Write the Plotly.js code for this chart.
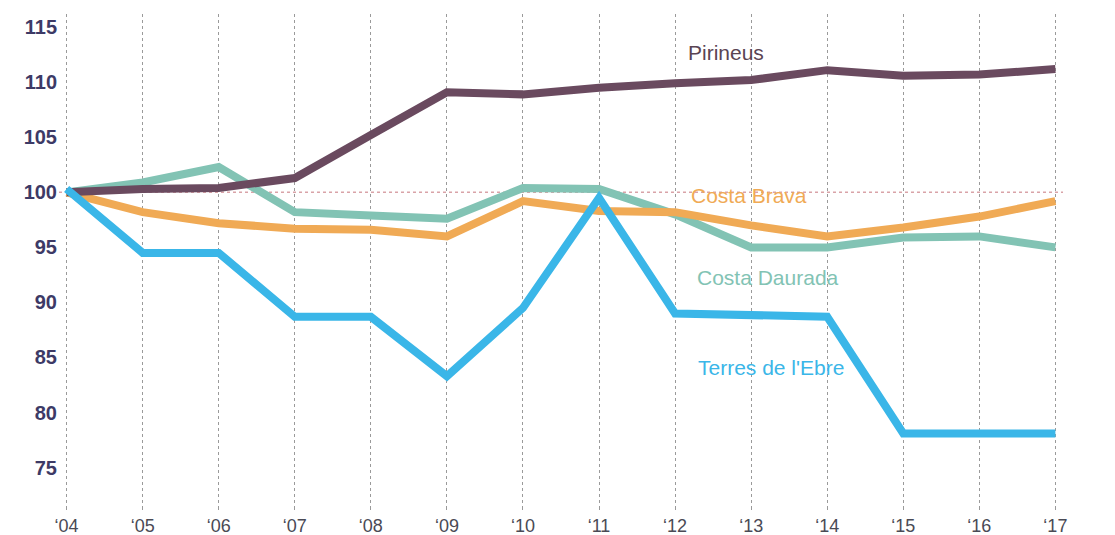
<!DOCTYPE html>
<html>
<head>
<meta charset="utf-8">
<script src="https://cdn.plot.ly/plotly-3.0.1.min.js"></script>
<style>
  html, body { margin: 0; padding: 0; background: #fff; }
  #graph { width: 1115px; height: 535px; }
</style>
</head>
<body>
<div id="graph"></div>
<script>
// Years and tick labels
const years = ['04', '05', '06', '07', '08', '09', '10', '11', '12', '13', '14', '15', '16', '17'];
const yearLabels = years.map(y => '\u2018' + y);

// Index values per region (2004 = 100)
const pirineus = [100, 100.3, 100.4, 101.3, 105.2, 109.1, 108.9, 109.5, 109.9, 110.2, 111.1, 110.6, 110.7, 111.2];
const costaBrava = [100, 98.2, 97.2, 96.7, 96.6, 96.0, 99.2, 98.3, 98.2, 97.0, 96.0, 96.8, 97.8, 99.2];
const costaDaurada = [100, 100.9, 102.3, 98.2, 97.9, 97.6, 100.4, 100.3, 98.0, 95.0, 95.0, 95.9, 96.0, 95.0];
const terresEbre = [100.3, 94.5, 94.5, 88.7, 88.7, 83.3, 89.5, 99.5, 89.0, 88.8, 88.7, 78.1, 78.1, 78.1];

const yTicks = [75, 80, 85, 90, 95, 100, 105, 110, 115];

const xIdx = years.map((y, i) => i);

function line(values, color, name) {
  return {
    x: xIdx,
    y: values,
    mode: 'lines',
    name: name,
    line: { color: color, width: 8, shape: 'linear' },
    hoverinfo: 'x+y'
  };
}

const data = [
  line(costaDaurada, '#82c3b4', 'Costa Daurada'),
  line(costaBrava, '#f0aa55', 'Costa Brava'),
  line(pirineus, '#6a4a5f', 'Pirineus'),
  line(terresEbre, '#3ab6e8', "Terres de l'Ebre")
];

const labelFont = { family: 'Liberation Sans, Arial, sans-serif', size: 21 };

const layout = {
  width: 1115,
  height: 535,
  margin: { l: 59, r: 52, t: 14, b: 30 },
  paper_bgcolor: '#ffffff',
  plot_bgcolor: '#ffffff',
  showlegend: false,
  xaxis: {
    range: [-0.1, 13.1],
    tickvals: xIdx,
    ticktext: yearLabels,
    showgrid: true,
    gridcolor: '#9a9a9a',
    griddash: 'dot',
    gridwidth: 1,
    zeroline: false,
    showline: false,
    ticks: 'outside',
    ticklen: 4,
    tickcolor: '#9a9a9a',
    tickfont: { family: 'Liberation Sans, Arial, sans-serif', size: 18, color: '#4a4a55' }
  },
  yaxis: {
    range: [71.6, 116.2],
    tickvals: yTicks,
    showgrid: false,
    zeroline: false,
    showline: false,
    ticks: '',
    ticklabelstandoff: 1,
    tickfont: { family: 'Liberation Sans, Arial, sans-serif', size: 20, color: '#3d3a66', weight: 'bold' }
  },
  shapes: [
    {
      type: 'line', xref: 'paper', yref: 'y',
      x0: 0, x1: 1, y0: 100, y1: 100,
      line: { color: '#d9a3a8', width: 1.5, dash: 'dot' },
      layer: 'below'
    }
  ],
  annotations: [
    { x: 8.67, y: 112.7, text: 'Pirineus', showarrow: false, font: Object.assign({}, labelFont, { color: '#5a4453' }) },
    { x: 8.97, y: 99.7, text: 'Costa Brava', showarrow: false, font: Object.assign({}, labelFont, { color: '#f0aa55' }) },
    { x: 9.22, y: 92.3, text: 'Costa Daurada', showarrow: false, font: Object.assign({}, labelFont, { color: '#82c3b4' }) },
    { x: 9.26, y: 84.1, text: "Terres de l'Ebre", showarrow: false, font: Object.assign({}, labelFont, { color: '#3ab6e8' }) }
  ]
};

Plotly.newPlot('graph', data, layout, { displayModeBar: false, staticPlot: true });
</script>
</body>
</html>
